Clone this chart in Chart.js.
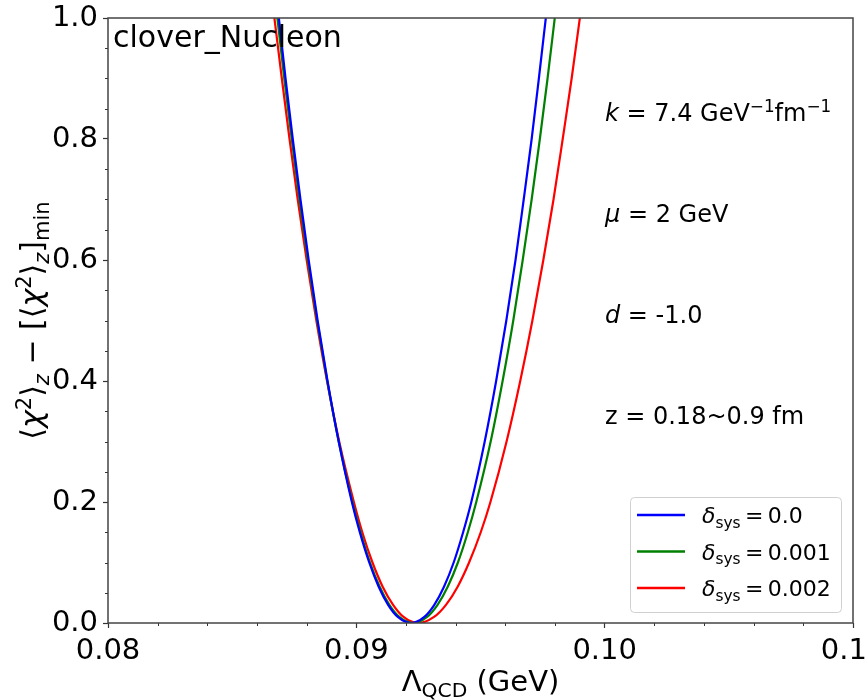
<!DOCTYPE html>
<html>
<head>
<meta charset="utf-8">
<script src="https://cdn.jsdelivr.net/npm/chart.js@4.4.1/dist/chart.umd.min.js"></script>
<style>
  body { margin: 0; background: #fff; }
  #wrap { width: 866px; height: 700px; }
</style>
</head>
<body>
<div id="wrap"><canvas id="chart" width="866" height="700"></canvas></div>
<script>
// values: chi2 difference levels and the Lambda_QCD (GeV) where each curve crosses them
const chiLevels   = [1.0, 0.9, 0.8, 0.7, 0.6, 0.5, 0.4, 0.3, 0.2, 0.15, 0.1, 0.06, 0.03, 0.01, 0.0,
                     0.01, 0.03, 0.06, 0.1, 0.15, 0.2, 0.3, 0.4, 0.5, 0.6, 0.7, 0.8, 0.9, 1.0];
const lambdaBlue  = [0.08688, 0.08715, 0.08744, 0.08775, 0.08808, 0.08844, 0.08884, 0.08929, 0.08982, 0.09014, 0.09052, 0.09090, 0.09128, 0.09167, 0.09220,
                     0.09274, 0.09314, 0.09353, 0.09392, 0.09430, 0.09463, 0.09517, 0.09563, 0.09604, 0.09641, 0.09674, 0.09706, 0.09735, 0.09763];
const lambdaGreen = [0.08682, 0.08710, 0.08740, 0.08771, 0.08805, 0.08842, 0.08883, 0.08929, 0.08984, 0.09017, 0.09055, 0.09094, 0.09133, 0.09173, 0.09228,
                     0.09285, 0.09327, 0.09368, 0.09409, 0.09449, 0.09483, 0.09541, 0.09589, 0.09632, 0.09670, 0.09706, 0.09739, 0.09770, 0.09799];
const lambdaRed   = [0.08670, 0.08700, 0.08731, 0.08764, 0.08800, 0.08839, 0.08882, 0.08931, 0.08990, 0.09024, 0.09065, 0.09106, 0.09148, 0.09190, 0.09248,
                     0.09313, 0.09361, 0.09408, 0.09454, 0.09501, 0.09540, 0.09605, 0.09660, 0.09709, 0.09753, 0.09794, 0.09831, 0.09867, 0.09900];

const seriesNames = ['0.0', '0.001', '0.002'];
const seriesColors = ['#0000ff', '#008000', '#ff0000'];
const xTicks = [0.08, 0.09, 0.10, 0.11];
const yTicks = [0.0, 0.2, 0.4, 0.6, 0.8, 1.0];

const FONT = '"DejaVu Sans", sans-serif';

function toPoints(xs, ys) {
    return xs.map((x, i) => ({x: x, y: ys[i]}));
}

// text made of pieces: normal / sub / sup, italic or not
function richWidth(ctx, segs, size) {
    let w = 0;
    segs.forEach(s => {
        let fs = s.s ? size * 0.7 : size;
        ctx.font = (s.it ? 'italic ' : '') + fs + 'px ' + FONT;
        w += ctx.measureText(s.t).width;
    });
    return w;
}

function drawRich(ctx, segs, x, y, size, align) {
    let w = richWidth(ctx, segs, size);
    let cx = x;
    if (align === 'center') cx = x - w / 2;
    ctx.textBaseline = 'alphabetic';
    ctx.textAlign = 'left';
    segs.forEach(s => {
        let fs = s.s ? size * 0.7 : size;
        let dy = 0;
        if (s.s === 'sub') dy = size * 0.22;
        if (s.s === 'sup') dy = -size * 0.38;
        ctx.font = (s.it ? 'italic ' : '') + fs + 'px ' + FONT;
        ctx.fillText(s.t, cx, y + dy);
        cx += ctx.measureText(s.t).width;
    });
}

const decorPlugin = {
    id: 'decor',
    afterDraw(chart) {
        const ctx = chart.ctx;
        const a = chart.chartArea;
        const xs = chart.scales.x;
        const ys = chart.scales.y;
        ctx.save();

        // minor ticks
        ctx.strokeStyle = '#333';
        ctx.lineWidth = 1;
        ctx.beginPath();
        for (let i = 0; i <= 15; i++) {
            if (i % 5 === 0) continue;
            let px = Math.round(xs.getPixelForValue(0.08 + i * 0.002)) + 0.5;
            ctx.moveTo(px, a.bottom);
            ctx.lineTo(px, a.bottom + 3);
        }
        for (let i = 0; i <= 20; i++) {
            if (i % 4 === 0) continue;
            let py = Math.round(ys.getPixelForValue(i * 0.05)) + 0.5;
            ctx.moveTo(a.left, py);
            ctx.lineTo(a.left - 3, py);
        }
        ctx.stroke();

        // frame
        ctx.strokeStyle = '#444';
        ctx.lineWidth = 1.5;
        ctx.strokeRect(a.left, a.top, a.right - a.left, a.bottom - a.top);

        ctx.fillStyle = '#000';
        ctx.font = '30px ' + FONT;
        ctx.textBaseline = 'alphabetic';
        ctx.fillText('clover_Nucleon', a.left + 5, 47);

        // parameter notes
        const nx = 605;
        drawRich(ctx, [{t: 'k', it: true}, {t: ' = 7.4 GeV'}, {t: '\u22121', s: 'sup'}, {t: 'fm'}, {t: '\u22121', s: 'sup'}], nx, 121, 24);
        drawRich(ctx, [{t: '\u03bc', it: true}, {t: ' = 2 GeV'}], nx, 222, 24);
        drawRich(ctx, [{t: 'd', it: true}, {t: ' = -1.0'}], nx, 323, 24);
        drawRich(ctx, [{t: 'z = 0.18~0.9 fm'}], nx, 424, 24);

        // axis titles
        drawRich(ctx, [{t: '\u039b'}, {t: 'QCD', s: 'sub'}, {t: ' (GeV)'}], (a.left + a.right) / 2, 691, 29, 'center');
        ctx.save();
        ctx.translate(42, (a.top + a.bottom) / 2);
        ctx.rotate(-Math.PI / 2);
        drawRich(ctx, [
            {t: '\u27e8'}, {t: '\u03c7', it: true}, {t: '2', s: 'sup'}, {t: '\u27e9'}, {t: 'z', s: 'sub', it: true},
            {t: ' \u2212 ['}, {t: '\u27e8'}, {t: '\u03c7', it: true}, {t: '2', s: 'sup'}, {t: '\u27e9'}, {t: 'z', s: 'sub', it: true},
            {t: ']'}, {t: 'min', s: 'sub'}
        ], 0, 0, 30, 'center');
        ctx.restore();

        // legend
        const lx = 630, ly = 497, lw = 211, lh = 115;
        ctx.fillStyle = 'rgba(255,255,255,0.85)';
        ctx.strokeStyle = '#d0d0d0';
        ctx.lineWidth = 1;
        ctx.beginPath();
        ctx.roundRect(lx + 0.5, ly + 0.5, lw, lh, 4);
        ctx.fill();
        ctx.stroke();
        seriesNames.forEach((name, i) => {
            let yy = 515 + i * 36.5;
            ctx.strokeStyle = seriesColors[i];
            ctx.lineWidth = 2.5;
            ctx.beginPath();
            ctx.moveTo(637, yy);
            ctx.lineTo(685, yy);
            ctx.stroke();
            ctx.fillStyle = '#000';
            drawRich(ctx, [{t: '\u03b4', it: true}, {t: 'sys', s: 'sub'}, {t: '\u2009=\u2009' + name}], 702, yy + 8, 22);
        });
        ctx.restore();
    }
};

const datasets = [lambdaBlue, lambdaGreen, lambdaRed].map((xs, i) => ({
    label: seriesNames[i],
    data: toPoints(xs, chiLevels),
    showLine: true,
    borderColor: seriesColors[i],
    backgroundColor: seriesColors[i],
    borderWidth: 2.2,
    pointRadius: 0,
    cubicInterpolationMode: 'monotone',
    fill: false
}));

function noPad(scale) {
    scale.paddingLeft = 0;
    scale.paddingRight = 0;
    scale.paddingTop = 0;
    scale.paddingBottom = 0;
}

new Chart(document.getElementById('chart'), {
    type: 'scatter',
    data: {datasets: datasets},
    options: {
        responsive: false,
        animation: false,
        layout: {padding: {top: 18, right: 13, left: 0, bottom: 0}},
        plugins: {legend: {display: false}, tooltip: {enabled: false}},
        scales: {
            x: {
                type: 'linear', min: 0.08, max: 0.11,
                afterBuildTicks: s => { s.ticks = xTicks.map(v => ({value: v})); },
                afterFit: s => { s.height = 77; noPad(s); },
                ticks: {
                    color: '#000', padding: 6, maxRotation: 0, autoSkip: false,
                    font: {family: FONT, size: 29},
                    callback: v => v.toFixed(2)
                },
                grid: {drawOnChartArea: false, drawTicks: true, tickLength: 5, color: '#333', tickWidth: 1.2},
                border: {display: false}
            },
            y: {
                type: 'linear', min: 0, max: 1,
                afterBuildTicks: s => { s.ticks = yTicks.map(v => ({value: v})); },
                afterFit: s => { s.width = 108; noPad(s); },
                ticks: {
                    color: '#000', padding: 5,
                    font: {family: FONT, size: 29},
                    callback: v => v.toFixed(1)
                },
                grid: {drawOnChartArea: false, drawTicks: true, tickLength: 5, color: '#333', tickWidth: 1.2},
                border: {display: false}
            }
        }
    },
    plugins: [decorPlugin]
});
</script>
</body>
</html>
